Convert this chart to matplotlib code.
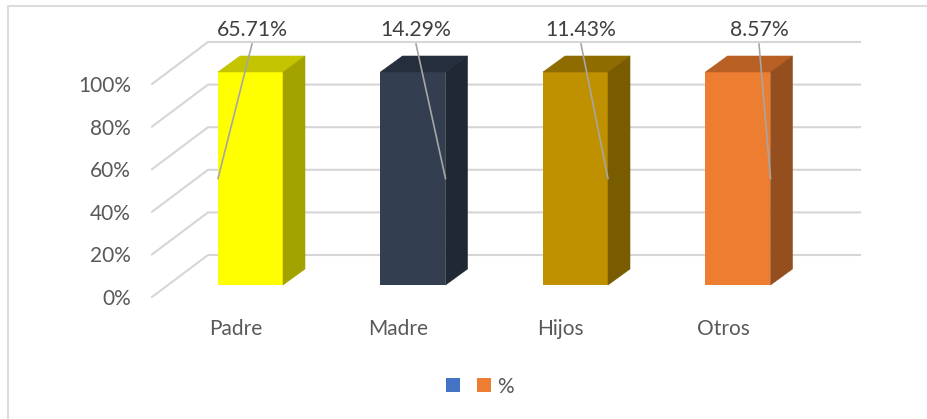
# Grafico de barras 3D simulado, parentesco
import matplotlib
matplotlib.use('Agg')
from matplotlib import pyplot as plt
from matplotlib.patches import Polygon, Rectangle

categorias = ['Padre', 'Madre', 'Hijos', 'Otros']
valores = [100, 100, 100, 100]
etiquetas = ['65.71%', '14.29%', '11.43%', '8.57%']
marcas_y = [0, 20, 40, 60, 80, 100]
colores_frente = ['#ffff00', '#333f50', '#bf9000', '#ed7d31']
colores_tapa = ['#c4c400', '#252e3c', '#8f6c00', '#b85f24']
colores_lado = ['#a3a300', '#1f2833', '#7a5c00', '#954f1f']
gris = '#d6d6d6'

plt.rcParams['font.family'] = ['Lato', 'DejaVu Sans']

W, H = 928, 419
fig = plt.figure(figsize=(W / 100, H / 100), dpi=100)

# ejes colocados en pixeles: x de 152 a 860, y de 42 a 297
ax = fig.add_axes([152 / W, 1 - 297 / H, (860 - 152) / W, (297 - 42) / H])
esc_x = 162.5
esc_y = 2.13
ax.set_xlim((152 - 250.5) / esc_x, (860 - 250.5) / esc_x)
ax.set_ylim((285 - 297) / esc_y, (285 - 42) / esc_y)
ax.axis('off')

ancho = 65 / esc_x
prof_x = 22 / esc_x
prof_y = 16 / esc_y
piso = 12 / esc_y       # frente del piso respecto a las barras
pared_x = 56 / esc_x
pared_y = 42 / esc_y
izq = ax.get_xlim()[0]
der = ax.get_xlim()[1]

# lineas de la pared y del piso
for m in marcas_y:
    y0 = m - piso
    y1 = y0 + pared_y
    ax.plot([izq, izq + pared_x, der], [y0, y1, y1], color=gris, lw=1.5, zorder=1,
            clip_on=False, solid_joinstyle='miter')
    ax.text(izq - 21 / esc_x, y0, f'{m}%', ha='right', va='center_baseline', fontsize=15,
            color='#595959')

# barras
for i, v in enumerate(valores):
    x0 = i - ancho / 2
    x1 = i + ancho / 2
    ax.bar(i, v, width=ancho, color=colores_frente[i], zorder=3)
    ax.add_patch(Polygon([(x0, v), (x1, v), (x1 + prof_x, v + prof_y), (x0 + prof_x, v + prof_y)],
                         facecolor=colores_tapa[i], edgecolor=colores_tapa[i], zorder=3, lw=0.4))
    ax.add_patch(Polygon([(x1, 0), (x1 + prof_x, prof_y), (x1 + prof_x, v + prof_y), (x1, v)],
                         facecolor=colores_lado[i], edgecolor=colores_lado[i], zorder=3, lw=0.4))
    ax.text(i - 15 / esc_x, -42 / esc_y, categorias[i], ha='center', va='center_baseline', fontsize=15,
            color='#595959')

# etiquetas con linea guia
centros = [252, 416, 581, 759]
finales = [-ancho / 2, ancho / 2, ancho / 2, ancho / 2]
for i, txt in enumerate(etiquetas):
    xt = (centros[i] - 250.5) / esc_x
    ax.text(xt, (285 - 28) / esc_y, txt, ha='center', va='center_baseline', fontsize=15.3,
            color='#404040', zorder=5)
    ax.plot([xt, i + finales[i]], [(285 - 44) / esc_y, valores[i] / 2], color='#a6a6a6',
            lw=1.2, zorder=4, clip_on=False)

# leyenda y borde, en pixeles de la figura
fig.add_artist(Rectangle((446 / W, 1 - 392 / H), 14 / W, 14 / H, color='#4472c4',
                         transform=fig.transFigure, lw=0))
fig.add_artist(Rectangle((477 / W, 1 - 392 / H), 14 / W, 14 / H, color='#ed7d31',
                         transform=fig.transFigure, lw=0))
fig.text(497 / W, 1 - 385 / H, '%', ha='left', va='center_baseline', fontsize=15, color='#595959')

fig.add_artist(plt.Line2D([8.5 / W, 8.5 / W, 1], [0, 1 - 6.5 / H, 1 - 6.5 / H],
                          color='#dcdcdc', lw=1.5))

fig.savefig('out.png', dpi=100)
